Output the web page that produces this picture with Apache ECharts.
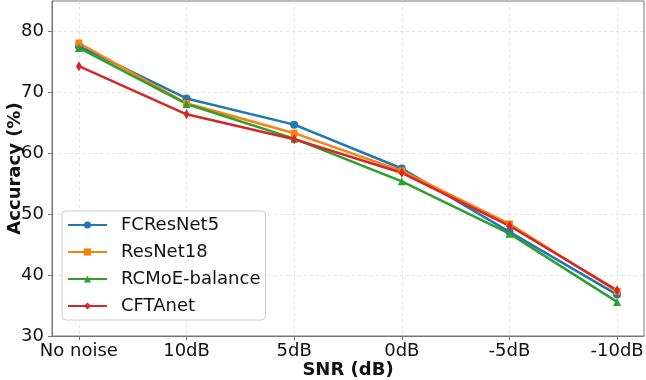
<!DOCTYPE html>
<html lang="en">
<head>
  <meta charset="UTF-8">
  <title>Accuracy vs SNR</title>
  <script src="https://cdn.jsdelivr.net/npm/echarts@6/dist/echarts.min.js"></script>
</head>
<body style="margin:0">
  <div id="main" style="width:646px;height:380px;"></div>
  <script>
    // categories on the x axis
    var snrLevels = ['No noise', '10dB', '5dB', '0dB', '-5dB', '-10dB'];
    // accuracy (%) per model
    var fcResNet5 = [77.6, 69.0, 64.7, 57.5, 47.1, 36.8];
    var resNet18 = [78.1, 68.2, 63.3, 57.1, 48.4, 37.3];
    var rcmoeBalance = [77.3, 68.1, 62.4, 55.4, 46.8, 35.6];
    var cftanet = [74.3, 66.4, 62.3, 56.8, 48.1, 37.5];
    var yTicks = [30, 40, 50, 60, 70, 80];

    var font = 'DejaVu Sans';

    function pts(arr) {
      return arr.map(function (v, i) { return [i, v]; });
    }

    function mkSeries(name, arr, color, symbol, size) {
      return {
        name: name,
        type: 'line',
        data: pts(arr),
        symbol: symbol,
        symbolSize: size,
        lineStyle: { width: 2.5, color: color },
        itemStyle: { color: color },
        emphasis: { disabled: true }
      };
    }

    var myChart = echarts.init(document.getElementById('main'));

    var option = {
      animation: false,
      grid: {
        left: 52, right: 2, top: 1, bottom: 44,
        outerBoundsMode: 'none',
        containLabel: false,
        show: true, borderColor: '#777', borderWidth: 1
      },
      legend: {
        orient: 'vertical',
        left: 62, top: 211,
        padding: [5, 5, 5, 5],
        itemGap: 9,
        itemWidth: 39,
        itemHeight: 9,
        borderColor: '#ccc',
        borderWidth: 1,
        borderRadius: 4,
        backgroundColor: 'rgba(255,255,255,0.85)',
        textStyle: { fontFamily: font, fontSize: 18, color: '#111', padding: [0, 0, 0, 9], lineHeight: 18 },
        data: ['FCResNet5', 'ResNet18', 'RCMoE-balance', 'CFTAnet']
      },
      xAxis: {
        type: 'value',
        min: -0.25,
        max: 5.25,
        name: 'SNR (dB)',
        nameLocation: 'middle',
        nameGap: 25,
        nameMoveOverlap: false,
        nameTextStyle: { fontFamily: font, fontSize: 18, fontWeight: 'bold', color: '#111' },
        axisLine: { show: true, onZero: false, lineStyle: { color: '#777' } },
        axisTick: { show: true, length: 4, lineStyle: { color: '#777' }, customValues: [0, 1, 2, 3, 4, 5] },
        axisLabel: {
          customValues: [0, 1, 2, 3, 4, 5],
          fontFamily: font, fontSize: 18, color: '#111', margin: 6,
          formatter: function (v) { return snrLevels[Math.round(v)]; }
        },
        splitLine: { show: true, lineStyle: { color: '#ddd', type: [3, 3], width: 0.8 } }
      },
      yAxis: {
        type: 'value',
        min: 30,
        max: 85,
        name: 'Accuracy (%)',
        nameLocation: 'middle',
        nameGap: 28,
        nameMoveOverlap: false,
        nameTextStyle: { fontFamily: font, fontSize: 18, fontWeight: 'bold', color: '#111' },
        axisLine: { show: true, onZero: false, lineStyle: { color: '#777' } },
        axisTick: { show: true, length: 4, lineStyle: { color: '#777' }, customValues: yTicks },
        axisLabel: {
          customValues: yTicks,
          fontFamily: font, fontSize: 18, color: '#111', margin: 8
        },
        splitLine: { show: true, lineStyle: { color: '#ddd', type: [3, 3], width: 0.8 } }
      },
      series: [
        mkSeries('FCResNet5', fcResNet5, '#1f77b4', 'circle', 8),
        mkSeries('ResNet18', resNet18, '#ff7f0e', 'rect', 7),
        mkSeries('RCMoE-balance', rcmoeBalance, '#2ca02c', 'triangle', 8),
        mkSeries('CFTAnet', cftanet, '#d62728', 'diamond', [6, 10])
      ]
    };

    myChart.setOption(option);
  </script>
</body>
</html>
